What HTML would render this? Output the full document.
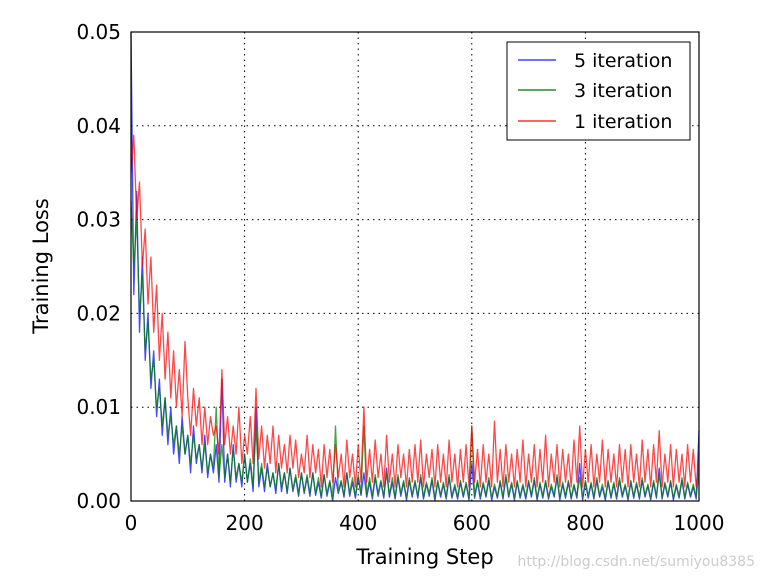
<!DOCTYPE html>
<html><head><meta charset="utf-8"><style>
body{margin:0;background:#fff;}
svg text{font-family:"DejaVu Sans","Liberation Sans",sans-serif;}
</style></head><body>
<svg id="chart" width="767" height="582" xmlns="http://www.w3.org/2000/svg">
<g id="grid"></g>
<g id="series"></g>
<rect x="131" y="32" width="568" height="469" fill="none" stroke="#000" stroke-width="1.2"/>
<g id="ticks"></g>
<text x="425" y="564" font-size="21" text-anchor="middle">Training Step</text>
<text transform="translate(48,266) rotate(-90)" font-size="21" text-anchor="middle">Training Loss</text>
<text x="755" y="566" font-size="14" fill="#ccc" text-anchor="end">http://blog.csdn.net/sumiyou8385</text>
<g>
<rect x="507" y="42" width="183" height="98" fill="#fff" stroke="#000" stroke-width="1"/>
<g><line x1="518" y1="60" x2="556" y2="60" stroke="#4444ff" stroke-width="1.5"/><text x="574" y="67" font-size="19">5 iteration</text></g>
<g><line x1="518" y1="90" x2="556" y2="90" stroke="#2a8a2a" stroke-width="1.5"/><text x="574" y="97" font-size="19">3 iteration</text></g>
<g><line x1="518" y1="121" x2="556" y2="121" stroke="#ff3333" stroke-width="1.5"/><text x="574" y="128" font-size="19">1 iteration</text></g>
</g>
</svg>
<script>
const xTicks=[0,200,400,600,800,1000];
const yTicks=[0,0.01,0.02,0.03,0.04,0.05];
const yTickLabels=["0.00","0.01","0.02","0.03","0.04","0.05"];
const iter5=[50,22,33,18,26,15,20,12,16,9,13,7,11,6,10,5,8,4,9,5,7,
3,8,4,6,3,7,2.5,5,3,6,2,13,2,5,1.5,6,2,4,1.5,5,
2,4,1,10,1.5,3.5,1,4,1.5,3,0.8,4,1,3,0.8,3.5,1,2.5,0.5,3,
0.8,2.5,0.5,3,0.6,2,0.3,2.8,0.5,2,0,2.5,0.8,2,0.4,3,0.5,2,0.3,2.5,
0.6,3,0.4,2,0.2,2.5,0.5,2,0.3,3.5,0.4,2,0.2,2.5,0.5,2,0.1,2.2,0.4,2,
0.3,2.5,0.2,1.8,0.5,2.2,0,2,0.4,1.8,0.2,2.5,0.3,1.5,0.2,2,0.4,1.8,0.1,4,
0.3,2,0.2,1.8,0.4,2.2,0.1,1.5,0.3,2,0.2,2.5,0.4,1.8,0.1,2,0.3,1.6,0.2,2,
0.4,2.2,0.1,1.8,0.3,2,0.2,1.5,0.4,2.5,0.1,1.8,0.3,2,0.2,1.6,0.3,4,0.1,2,
0.3,1.8,0.2,2.2,0.4,1.5,0.1,2,0.3,1.8,0.2,2.2,0.4,1.6,0.1,2,0.3,1.8,0.2,2.2,
0.4,1.6,0.1,2,0.3,3.5,0.2,1.8,0.4,2,0.1,1.6,0.3,2.2,0.2,1.8,0.4,1.5,0.2,7.5];
const iter3=[32,25,30,20,24,16,19,13,15,10,12,8,11,7,9,6,8,5,8,5,7,
4,7,4.5,6,3.5,6,3,5,3.5,10,2.5,6,2.5,5,2,5.5,2.5,4,2,5,
2,4.5,1.5,8,2,4,1.5,3.5,1.5,3,1.2,4,1.5,3,1,3.5,1.2,2.8,0.8,3,
1,2.8,0.8,3,0.8,2.5,0.5,2.8,0.8,2.2,0.3,8,1,2.2,0.6,3,0.8,2.5,0.5,2.8,
0.8,8,0.6,2.5,0.5,2.8,0.8,2.2,0.5,3,0.6,2.5,0.4,2.8,0.8,2.2,0.3,2.5,0.6,2.2,
0.5,2.8,0.4,2,0.8,2.5,0.3,2.2,0.6,2,0.4,2.8,0.5,1.8,0.4,2.2,0.6,2,0.3,8,
0.5,2.2,0.4,2,0.6,2.5,0.3,1.8,0.5,2.2,0.4,2.8,0.6,2,0.3,2.2,0.5,1.8,0.4,2.2,
0.6,2.5,0.3,2,0.5,2.2,0.4,1.8,0.6,2.8,0.3,2,0.5,2.2,0.4,1.8,0.5,2.5,0.3,2.2,
0.5,2,0.4,2.5,0.6,1.8,0.3,2.2,0.5,2,0.4,2.5,0.6,1.8,0.3,2.2,0.5,2,0.4,2.5,
0.6,1.8,0.3,2.2,0.5,2.8,0.4,2,0.6,2.2,0.3,1.8,0.5,2.5,0.4,2,0.6,1.8,0.4,3];
const iter1=[35,39,30,34,25,29,21,26,18,23,15,20,13,18,11,16,10,14,9,17,11,
7,12,8,11,6,10,6,9,7,8,5,14,6,9,5,8,5,10,4,7,
5,9,4,12,4.5,8,3.5,7,4,8,3,7,3.5,6,3,7,3.5,6.5,2.5,5,
3,7,2.5,6,3,5.5,1.5,6,2.5,5.5,2,6,2.5,5,1.5,6.5,2.5,5,1.5,6,
2,10,2,5.5,2,6.5,2.5,5,1.5,7,2,5,1.5,6,2.5,5,1.5,5.5,2,6,
2,6.5,1.5,5,2.5,5.5,1.5,6,2,5,1.5,6.5,2,5,1.5,5.5,2,6,1.5,8,
2,5.5,1.5,6,2,5,1.5,8.5,2,5.5,1.5,6,2,5,1.5,5.5,2,6.5,1.5,5,
2,6,1.5,5.5,2,7,1.5,5,2,6,1.5,5.5,2,5,1.5,6.5,2,8,1.5,5.5,
2,6,1.5,5,2,6.5,1.5,5.5,2,5,1.5,6,2,5.5,1.5,6,2,5,1.5,6.5,
2,5.5,1.5,6,2,7.5,1.5,5,2,6,1.5,5.5,2,5,1.5,6,2,5.5,1.5,4];
const NS="http://www.w3.org/2000/svg";
const X0=131,X1=699,Y0=501,Y1=32;
function xs(v){return X0+(v/1000)*(X1-X0);}
function ys(v){return Y0-(v/0.05)*(Y0-Y1);}
function mk(t,a,p){const e=document.createElementNS(NS,t);for(const k in a)e.setAttribute(k,a[k]);p.appendChild(e);return e;}
const grid=document.getElementById('grid'),ticks=document.getElementById('ticks'),ser=document.getElementById('series');
xTicks.forEach(v=>{const x=xs(v);
 const g=mk('line',{x1:x,x2:x,y1:Y1,y2:Y0,stroke:'#000','stroke-dasharray':'1.5,4','stroke-width':1},grid);
 
 
 const t=mk('text',{x:x,y:530,'font-size':20,'text-anchor':'middle'},ticks);t.textContent=v;
 
 });
yTicks.forEach((v,i)=>{const y=ys(v);
 const g=mk('line',{x1:X0,x2:X1,y1:y,y2:y,stroke:'#000','stroke-dasharray':'1.5,4','stroke-width':1},grid);
 
 
 const t=mk('text',{x:121,y:y+7,'font-size':20,'text-anchor':'end'},ticks);t.textContent=yTickLabels[i];
 
 });
function draw(arr,color,name){
 const n=arr.length;const pts=arr.map((v,i)=>xs(i*1000/(n-1)).toFixed(1)+','+ys(v/1000).toFixed(1)).join(' ');
 const p=mk('polyline',{points:pts,fill:'none',stroke:color,'stroke-width':1.3,'stroke-opacity':0.72,'stroke-linejoin':'round'},ser);
 
 }
draw(iter5,'#0000ff','line-5-iteration');
draw(iter3,'#007f00','line-3-iteration');
draw(iter1,'#ff0000','line-1-iteration');
</script>
</body></html>
